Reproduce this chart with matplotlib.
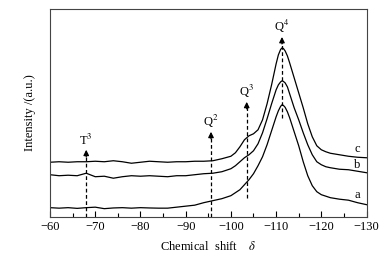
import matplotlib
matplotlib.use('Agg')
import matplotlib.pyplot as plt
from matplotlib.ticker import MultipleLocator

plt.rcParams['font.family'] = ['Liberation Serif', 'DejaVu Serif']
plt.rcParams['mathtext.fontset'] = 'stix'

# Chemical shift grid (ppm)
delta = [-60, -62, -64, -66, -68, -70, -72, -74, -76, -78, -80, -82, -84, -86, -88,
         -90, -92, -94, -96, -98, -100, -101, -102, -103, -104, -105, -106, -107,
         -108, -109, -110, -110.5, -111, -111.3, -111.6, -112, -112.5, -113, -114,
         -115, -116, -117, -118, -119, -120, -121, -122, -124, -126, -128, -130]

# Intensity of the three spectra (arbitrary units, offset)
curve_a = [9, 8.5, 9, 8.3, 9, 9.5, 8, 8.7, 9, 8.5, 9, 8.7, 8.5, 8.5, 9.5,
           10.5, 11.5, 14, 16, 18, 21, 24, 27, 32, 37, 43, 51, 60,
           72, 86, 100, 106, 110.5, 112, 111.5, 109.5, 105, 99, 85,
           71, 55, 41, 31, 25, 22, 20.5, 19, 17.5, 16.5, 14, 12]
curve_b = [42, 41, 41.5, 41, 43.5, 40, 40.5, 38.5, 40, 41, 40.5, 41, 40.5, 40, 41,
           41, 42, 43, 43.5, 45, 48, 51, 55, 59, 62, 66, 73, 84,
           98, 113, 127, 132, 135, 136, 135.5, 134, 130, 123, 109,
           97, 84, 72, 62, 55, 52, 50, 49, 47.5, 47, 45.5, 44]
curve_c = [54.5, 55, 54.5, 55, 55, 55.5, 55, 56, 55, 53.5, 54.5, 55.5, 55, 54.5, 55,
           55, 55.5, 55.5, 56, 58, 60.5, 64, 70, 77, 81, 83, 87, 97,
           113, 132, 153, 162, 167.5, 169, 168.5, 166, 161, 154, 139,
           124, 109, 93, 80, 71, 67, 65, 63.5, 62, 60.5, 59.5, 59]

curve_names = ['a', 'b', 'c']
name_y = [16, 46, 62]

# Peak markers: position, line bottom, line top, label
peak_pos = [-68, -95.6, -103.5, -111.3]
peak_bottom = [0, 0, 19, 99]
peak_top = [67, 85, 115, 180]
peak_labels = ['T$^3$', 'Q$^2$', 'Q$^3$', 'Q$^4$']

fig = plt.figure(figsize=(3.85, 2.57), dpi=100)
ax = fig.add_axes([0.130, 0.157, 0.822, 0.808])

for y in [curve_a, curve_b, curve_c]:
    ax.plot(delta, y, color='black', lw=0.9)

for name, yy in zip(curve_names, name_y):
    ax.text(-128, yy, name, fontsize=9, ha='center', va='bottom')

for x, y0, y1, lab in zip(peak_pos, peak_bottom, peak_top, peak_labels):
    ax.plot([x, x], [y0, y1 - 4], color='black', lw=0.9, ls=(0, (3, 2)))
    ax.annotate('', xy=(x, y1), xytext=(x, y1 - 7),
                arrowprops=dict(arrowstyle='-|>', color='black', lw=0.9,
                                mutation_scale=8, shrinkA=0, shrinkB=0))
    ax.text(x, y1 + 2, lab, fontsize=9, ha='center', va='bottom')

ax.set_xlim(-60, -130)
ax.set_ylim(0, 208)
ax.xaxis.set_major_locator(MultipleLocator(10))
ax.xaxis.set_minor_locator(MultipleLocator(5))
ax.tick_params(axis='x', which='major', direction='in', length=4, width=0.8,
               labelsize=9, pad=3)
ax.tick_params(axis='x', which='minor', direction='in', length=3, width=0.8)
ax.set_yticks([])
for s in ax.spines.values():
    s.set_linewidth(0.8)
    s.set_color('#444444')

ax.set_xlabel('Chemical  shift    $\\delta$', fontsize=9, labelpad=5)
ax.set_ylabel('Intensity /(a.u.)', fontsize=9, labelpad=10)

fig.savefig('out.png', dpi=100)
